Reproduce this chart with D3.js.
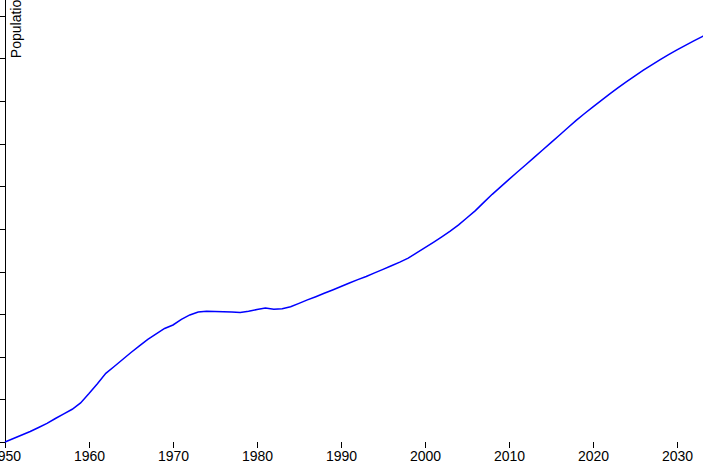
<!DOCTYPE html>
<html>
<head>
<meta charset="utf-8">
<script src="https://cdn.jsdelivr.net/npm/d3@7"></script>
<style>
  html, body { margin: 0; padding: 0; background: #fff; overflow: hidden; }
  body { font: 14px Arial, "Liberation Sans", sans-serif; }
  .axis path, .axis line { fill: none; stroke: #000; shape-rendering: crispEdges; }
  .x.axis path { display: none; }
  .line { fill: none; stroke: blue; stroke-width: 1.5px; }
</style>
</head>
<body>
<script>
// Years and population (thousands)
const years = [1950,1951,1952,1953,1954,1955,1956,1957,1958,1959,
  1960,1961,1962,1963,1964,1965,1966,1967,1968,1969,
  1970,1971,1972,1973,1974,1975,1976,1977,1978,1979,
  1980,1981,1982,1983,1984,1985,1986,1987,1988,1989,
  1990,1991,1992,1993,1994,1995,1996,1997,1998,1999,
  2000,2001,2002,2003,2004,2005,2006,2007,2008,2009,
  2010,2011,2012,2013,2014,2015,2016,2017,2018,2019,
  2020,2021,2022,2023,2024,2025,2026,2027,2028,2029,
  2030,2031,2032,2033,2034];
const population = [1000,1041,1082,1123,1170,1219,1276,1329,1384,1458,
  1568,1684,1806,1886,1968,2050,2127,2203,2268,2332,
  2373,2438,2491,2526,2534,2532,2528,2526,2520,2534,
  2555,2573,2558,2563,2587,2627,2667,2705,2745,2784,
  2825,2866,2905,2942,2984,3026,3068,3110,3157,3219,
  3281,3343,3407,3474,3547,3631,3715,3812,3906,3994,
  4082,4168,4253,4340,4426,4512,4599,4687,4773,4854,
  4932,5009,5084,5157,5228,5297,5363,5426,5486,5544,
  5600,5654,5706,5757,5806];
const xDomain = [1950, 2050];
const yDomain = [1000, 6280];
const yLabel = "Population";

const W = 703, H = 474;
const margin = {top: -8, left: 5};
const width = 840, height = 450;

const data = years.map((y, i) => ({year: y, value: population[i]}));

const x = d3.scaleLinear().domain(xDomain).range([0, width]);
const y = d3.scaleLinear().domain(yDomain).range([height, 0]);

const svg = d3.select("body").append("svg")
  .attr("width", W).attr("height", H);

const g = svg.append("g")
  .attr("transform", `translate(${margin.left},${margin.top})`);

g.append("g")
  .attr("class", "x axis")
  .attr("transform", `translate(0,${height})`)
  .call(d3.axisBottom(x).ticks(10).tickFormat(d3.format("d")))
  .call(s => s.selectAll("text").attr("fill", "#000").style("font", "14px Arial, 'Liberation Sans', sans-serif"));

g.append("g")
  .attr("class", "y axis")
  .call(d3.axisLeft(y).tickFormat(d3.format(",")))
  .call(s => s.selectAll("text").attr("fill", "#000").style("font", "14px Arial, 'Liberation Sans', sans-serif"))
  .append("text")
  .attr("transform", "rotate(-90)")
  .attr("y", 6)
  .attr("dy", ".71em")
  .attr("fill", "#000")
  .style("text-anchor", "end")
  .style("font", "14px Arial, 'Liberation Sans', sans-serif")
  .text(yLabel);

const line = d3.line()
  .x(d => x(d.year))
  .y(d => y(d.value));

g.append("path")
  .datum(data)
  .attr("class", "line")
  .attr("d", line);
</script>
</body>
</html>
